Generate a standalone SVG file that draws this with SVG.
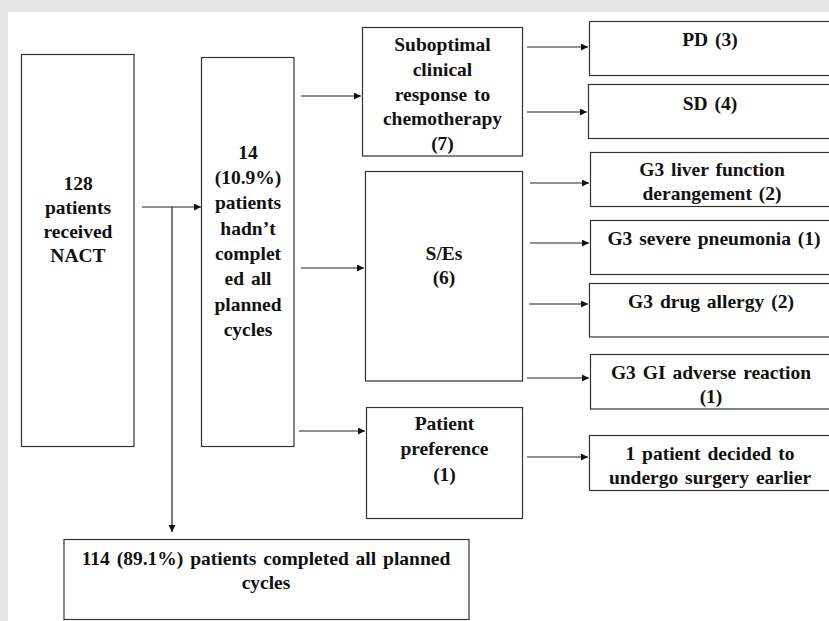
<svg xmlns="http://www.w3.org/2000/svg" width="829" height="621" viewBox="0 0 829 621">
<style>
.box{fill:#fff;stroke:#333;stroke-width:1.2}
.t{font-weight:bold;font-size:19.5px;fill:#111;text-anchor:middle;word-spacing:2px}
.c{fill:none;stroke:#222;stroke-width:1.2}
</style>
<defs>
<marker id="ah" markerUnits="userSpaceOnUse" markerWidth="8" markerHeight="8" refX="7" refY="3.5" orient="auto">
<path d="M0,0 L7,3.5 L0,7 z" fill="#111"/>
</marker>
</defs>
<rect x="0" y="0" width="829" height="621" fill="#e4e4e4"/>
<rect x="8" y="12" width="821" height="609" fill="#fff"/>

<g id="n128"><rect class="box" x="21.5" y="54.5" width="112.5" height="392"/>
<text class="t" font-family="Liberation Serif, serif"><tspan x="78" y="190">128</tspan><tspan x="78" y="214">patients</tspan><tspan x="78" y="238">received</tspan><tspan x="78" y="262">NACT</tspan></text></g>

<g id="n14"><rect class="box" x="201.5" y="57.5" width="92.5" height="389"/>
<text class="t" font-family="Liberation Serif, serif"><tspan x="248" y="158.5">14</tspan><tspan x="248" y="184">(10.9%)</tspan><tspan x="248" y="209">patients</tspan><tspan x="248" y="235">hadn’t</tspan><tspan x="248" y="260">complet</tspan><tspan x="248" y="285">ed all</tspan><tspan x="248" y="311">planned</tspan><tspan x="248" y="336">cycles</tspan></text></g>

<g id="nsub"><rect class="box" x="362.5" y="27.5" width="160" height="128.5"/>
<text class="t" font-family="Liberation Serif, serif"><tspan x="442.5" y="51">Suboptimal</tspan><tspan x="442.5" y="76">clinical</tspan><tspan x="442.5" y="101">response to</tspan><tspan x="442.5" y="125">chemotherapy</tspan><tspan x="442.5" y="150">(7)</tspan></text></g>

<g id="nse"><rect class="box" x="365.5" y="171.5" width="157" height="209.5"/>
<text class="t" font-family="Liberation Serif, serif"><tspan x="444" y="260">S/Es</tspan><tspan x="444" y="284">(6)</tspan></text></g>

<g id="npp"><rect class="box" x="366.5" y="407.5" width="156" height="111"/>
<text class="t" font-family="Liberation Serif, serif"><tspan x="444.5" y="430">Patient</tspan><tspan x="444.5" y="455">preference</tspan><tspan x="444.5" y="481">(1)</tspan></text></g>

<g id="npd"><rect class="box" x="589.5" y="21.5" width="245" height="54"/>
<text class="t" font-family="Liberation Serif, serif" x="710" y="46">PD (3)</text></g>

<g id="nsd"><rect class="box" x="588.5" y="84.5" width="246" height="54"/>
<text class="t" font-family="Liberation Serif, serif" x="710" y="110">SD (4)</text></g>

<g id="nliver"><rect class="box" x="590.5" y="152.5" width="244" height="54"/>
<text class="t" font-family="Liberation Serif, serif"><tspan x="712" y="176">G3 liver function</tspan><tspan x="712" y="200">derangement (2)</tspan></text></g>

<g id="npneu"><rect class="box" x="590.5" y="220.5" width="244" height="54"/>
<text class="t" font-family="Liberation Serif, serif" x="714" y="245">G3 severe pneumonia  (1)</text></g>

<g id="nallergy"><rect class="box" x="589.5" y="283.5" width="245" height="53.5"/>
<text class="t" font-family="Liberation Serif, serif" x="711" y="308">G3 drug allergy (2)</text></g>

<g id="ngi"><rect class="box" x="590.5" y="354.5" width="244" height="54.5"/>
<text class="t" font-family="Liberation Serif, serif"><tspan x="711" y="379">G3 GI adverse reaction</tspan><tspan x="711" y="403">(1)</tspan></text></g>

<g id="nsurg"><rect class="box" x="589.5" y="435.5" width="245" height="55"/>
<text class="t" font-family="Liberation Serif, serif"><tspan x="710" y="460">1 patient decided to</tspan><tspan x="710" y="484">undergo surgery earlier</tspan></text></g>

<g id="n114"><rect class="box" x="64" y="539.5" width="405" height="80"/>
<text class="t" font-family="Liberation Serif, serif"><tspan x="266" y="565">114 (89.1%) patients completed all planned</tspan><tspan x="266" y="589">cycles</tspan></text></g>

<g id="connectors">
<path class="c" d="M142,207 H201" marker-end="url(#ah)"/>
<path class="c" d="M172,207 V532" marker-end="url(#ah)"/>
<path class="c" d="M301,96 H361" marker-end="url(#ah)"/>
<path class="c" d="M301,268 H364" marker-end="url(#ah)"/>
<path class="c" d="M299,431 H365" marker-end="url(#ah)"/>
<path class="c" d="M527,47 H588" marker-end="url(#ah)"/>
<path class="c" d="M527,112 H587" marker-end="url(#ah)"/>
<path class="c" d="M530,183 H589" marker-end="url(#ah)"/>
<path class="c" d="M530,243 H589" marker-end="url(#ah)"/>
<path class="c" d="M529,304 H588" marker-end="url(#ah)"/>
<path class="c" d="M527,378 H589" marker-end="url(#ah)"/>
<path class="c" d="M527,457 H588" marker-end="url(#ah)"/>
</g>
</svg>
